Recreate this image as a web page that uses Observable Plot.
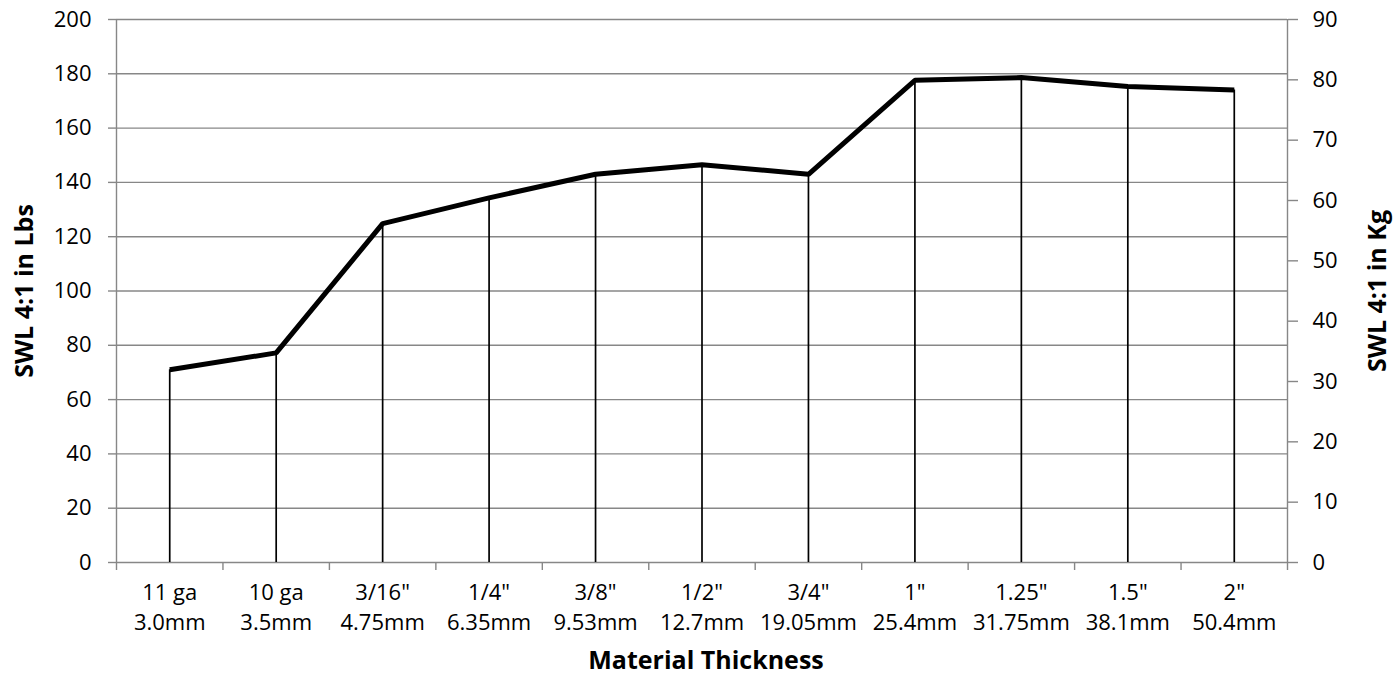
<!DOCTYPE html>
<html>
<head>
<meta charset="utf-8">
<script src="https://cdn.jsdelivr.net/npm/d3@7"></script>
<script src="https://cdn.jsdelivr.net/npm/@observablehq/plot@0.6"></script>
<style>
  html, body { margin: 0; padding: 0; background: #fff; }
</style>
</head>
<body>
<div id="chart"></div>
<script>
// Categories (imperial / metric thickness)
const thicknessInch = ["11 ga", "10 ga", "3/16\"", "1/4\"", "3/8\"", "1/2\"", "3/4\"", "1\"", "1.25\"", "1.5\"", "2\""];
const thicknessMm = ["3.0mm", "3.5mm", "4.75mm", "6.35mm", "9.53mm", "12.7mm", "19.05mm", "25.4mm", "31.75mm", "38.1mm", "50.4mm"];
// SWL 4:1 in Lbs
const swlLbs = [71, 77.2, 124.8, 134.3, 143, 146.5, 143, 177.6, 178.6, 175.3, 174];
// Axis ticks
const lbsTicks = [0, 20, 40, 60, 80, 100, 120, 140, 160, 180, 200];
const kgTicks = [0, 10, 20, 30, 40, 50, 60, 70, 80, 90];
const lbsMax = 200, kgMax = 90;

const data = swlLbs.map((v, i) => ({i, lbs: v}));
const idx = d3.range(thicknessInch.length);
const bounds = d3.range(thicknessInch.length + 1).map(i => i - 0.5);
const gray = "#878787";

const chart = Plot.plot({
  width: 1398,
  height: 684,
  marginLeft: 116,
  marginRight: 111,
  marginTop: 19,
  marginBottom: 122,
  style: {fontFamily: "'Open Sans', sans-serif", fontSize: "22px", color: "#000", background: "#fff"},
  x: {type: "linear", domain: [-0.5, thicknessInch.length - 0.5]},
  y: {domain: [0, lbsMax]},
  marks: [
    Plot.gridY(lbsTicks, {stroke: gray, strokeOpacity: 1, strokeWidth: 1.4}),
    Plot.ruleX([bounds[0], bounds[bounds.length - 1]], {stroke: gray, strokeWidth: 1.4}),
    Plot.axisY(lbsTicks, {anchor: "left", tickSize: 8, tickPadding: 17, stroke: gray, strokeWidth: 1.4, fill: "#000", label: null}),
    Plot.axisY(kgTicks.map(k => k * lbsMax / kgMax), {anchor: "right", tickSize: 10, tickPadding: 15, stroke: gray, strokeWidth: 1.4, fill: "#000", label: null, tickFormat: d => String(Math.round(d * kgMax / lbsMax))}),
    Plot.axisX(bounds, {anchor: "bottom", tickSize: 8, stroke: gray, strokeWidth: 1.4, tickFormat: () => "", label: null}),
    Plot.axisX(idx, {anchor: "bottom", tickSize: 0, tickPadding: 16, lineHeight: 1.36, fill: "#000", label: null, tickFormat: i => thicknessInch[i] + "\n" + thicknessMm[i]}),
    Plot.ruleX(data, {x: "i", y1: 0, y2: "lbs", stroke: "#000", strokeWidth: 1.7}),
    Plot.line(data, {x: "i", y: "lbs", stroke: "#000", strokeWidth: 5, strokeLinejoin: "miter", strokeLinecap: "butt"}),
    Plot.text(["SWL 4:1 in Lbs"], {frameAnchor: "left", textAnchor: "middle", rotate: -90, dx: -92, fontWeight: "bold", fontSize: 25}),
    Plot.text(["SWL 4:1 in Kg"], {frameAnchor: "right", textAnchor: "middle", rotate: -90, dx: 90, fontWeight: "bold", fontSize: 25}),
    Plot.text(["Material Thickness"], {frameAnchor: "bottom", textAnchor: "middle", dx: 4, dy: 106, fontWeight: "bold", fontSize: 25})
  ]
});
document.getElementById("chart").appendChild(chart);
</script>
</body>
</html>
